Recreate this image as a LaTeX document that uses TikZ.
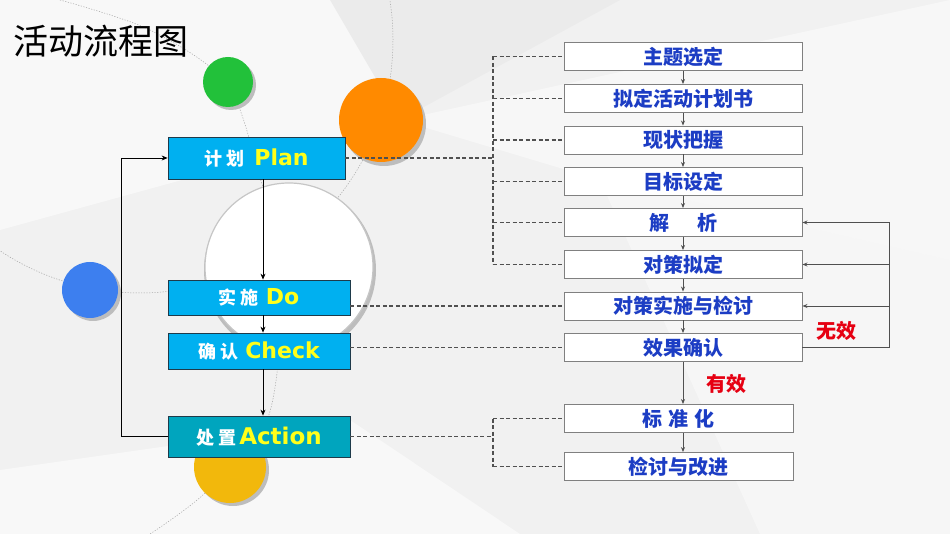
\documentclass[tikz,border=0pt]{standalone}
\usepackage{fontspec}
\setmainfont{DejaVu Sans}
\newfontfamily\cjk{Noto Sans CJK SC}
\usetikzlibrary{arrows.meta}
\definecolor{bgc}{HTML}{F1F1F1}
\definecolor{cyanbox}{HTML}{00B0F0}
\definecolor{tealbox}{HTML}{00A5BE}
\definecolor{boxline}{HTML}{1E3A4A}
\definecolor{txtblue}{HTML}{1C3DC4}
\definecolor{ylw}{HTML}{FFFF1A}
\definecolor{redtxt}{HTML}{E60012}
\definecolor{dgrey}{HTML}{505050}
\definecolor{cgreen}{HTML}{22C13A}
\definecolor{corange}{HTML}{FF8A00}
\definecolor{cblue}{HTML}{3D7FEF}
\definecolor{cyellow}{HTML}{F2B80C}
\definecolor{shadowc}{HTML}{BDBDBD}
\begin{document}
\begin{tikzpicture}[x=1pt,y=-1pt,
  pdca/.style={draw=boxline, line width=0.8pt, fill=cyanbox, minimum width=177pt, minimum height=42pt, inner sep=0pt, text=white},
  stepbox/.style={draw=gray, line width=0.9pt, fill=white, minimum width=238pt, minimum height=28pt, inner sep=0pt, text=txtblue, font=\cjk\bfseries\fontsize{20pt}{22pt}\selectfont},
  darr/.style={-{Stealth[length=6pt,width=5pt]}, line width=0.7pt, black},
  garr/.style={-{Stealth[length=5pt,width=4pt]}, line width=0.8pt, dgrey},
  gline/.style={line width=0.8pt, dgrey},
  dline/.style={line width=1.3pt, dgrey, dash pattern=on 4pt off 2.5pt},
  arcline/.style={line width=0.5pt, gray!70, dash pattern=on 1.2pt off 1.5pt},
  redlab/.style={text=redtxt, font=\cjk\bfseries\fontsize{20pt}{22pt}\selectfont}
]
\useasboundingbox (0,0) rectangle (950,534);
% background
\fill[bgc] (0,0) rectangle (950,534);
\fill[white, opacity=0.55] (0,0) -- (330,0) -- (400,120) -- (0,230) -- cycle;
\fill[white, opacity=0.45] (400,120) -- (950,0) -- (950,260) -- (600,180) -- cycle;
\fill[white, opacity=0.5] (0,470) -- (350,420) -- (520,534) -- (0,534) -- cycle;
\fill[white, opacity=0.4] (600,180) -- (950,260) -- (950,534) -- (760,534) -- cycle;
\fill[gray, opacity=0.05] (330,0) -- (620,0) -- (400,120) -- cycle;
% dotted arcs
\draw[arcline] (140,40) circle (253pt);
\draw[arcline] plot[smooth] coordinates {(60,0) (150,30) (228,85) (263,187) (287,255) (283,310) (267,420) (205,493) (150,534)};
% circles
\fill[shadowc] (290,270) circle (86pt);
\fill[white] (289,267) circle (84pt);
\draw[gray!45, line width=1.2pt] (289,267) circle (84pt);
\fill[shadowc] (231,85) circle (25pt);
\fill[cgreen] (228,82) circle (25pt);
\fill[shadowc] (384,124) circle (42pt);
\fill[corange] (381,120) circle (42pt);
\fill[shadowc] (93,293) circle (28pt);
\fill[cblue] (90,290) circle (28pt);
\fill[shadowc] (233,470) circle (36pt);
\fill[cyellow] (230,467) circle (36pt);
% title
\node[anchor=west, inner sep=0pt, font=\cjk\fontsize{35pt}{37pt}\selectfont] (title) at (13,41) {活动流程图};
% left PDCA boxes
\node[pdca] (plan) at (256.5,158) {{\cjk\bfseries\fontsize{18pt}{20pt}\selectfont 计\hspace{4pt}划}\hspace{10pt}{\bfseries\fontsize{22pt}{24pt}\selectfont\color{ylw}Plan}};
\node[pdca, minimum width=182pt, minimum height=35pt] (do) at (259,297.5) {{\cjk\bfseries\fontsize{18pt}{20pt}\selectfont 实\hspace{4pt}施}\hspace{7pt}{\bfseries\fontsize{22pt}{24pt}\selectfont\color{ylw}Do}};
\node[pdca, minimum width=182pt, minimum height=36pt] (check) at (259,351) {{\cjk\bfseries\fontsize{18pt}{20pt}\selectfont 确\hspace{4pt}认}\hspace{7pt}{\bfseries\fontsize{22pt}{24pt}\selectfont\color{ylw}Check}};
\node[pdca, fill=tealbox, minimum width=182pt, minimum height=41pt] (action) at (259,436.5) {{\cjk\bfseries\fontsize{18pt}{20pt}\selectfont 处\hspace{4pt}置}\hspace{3pt}{\bfseries\fontsize{23pt}{25pt}\selectfont\color{ylw}Action}};
% right step boxes
\node[stepbox] (s1) at (683,56.5) {主题选定};
\node[stepbox] (s2) at (683,98.5) {拟定活动计划书};
\node[stepbox] (s3) at (683,140) {现状把握};
\node[stepbox] (s4) at (683,181.5) {目标设定};
\node[stepbox] (s5) at (683,222.5) {解\hspace{28pt}析};
\node[stepbox] (s6) at (683,264.5) {对策拟定};
\node[stepbox] (s7) at (683,306) {对策实施与检讨};
\node[stepbox] (s8) at (683,347.5) {效果确认};
\node[stepbox, minimum width=229pt] (s9) at (678.5,418.5) {标\hspace{6pt}准\hspace{6pt}化};
\node[stepbox, minimum width=229pt] (s10) at (678.5,466.5) {检讨与改进};
% helper coordinates
\coordinate (ax) at (263,0);
\coordinate (rx) at (683,0);
\coordinate (lx) at (889,0);
\coordinate (dx) at (493,0);
\coordinate (lp) at (121,0);
% left arrows
\draw[darr] (plan.south -| ax) -- (do.north -| ax);
\draw[darr] (do.south -| ax) -- (check.north -| ax);
\draw[darr] (check.south -| ax) -- (action.north -| ax);
\draw[darr] (action.west) -- (action.west -| lp) |- (plan.west);
% right chain arrows
\draw[garr] (s1.south -| rx) -- (s2.north -| rx);
\draw[garr] (s2.south -| rx) -- (s3.north -| rx);
\draw[garr] (s3.south -| rx) -- (s4.north -| rx);
\draw[garr] (s4.south -| rx) -- (s5.north -| rx);
\draw[garr] (s5.south -| rx) -- (s6.north -| rx);
\draw[garr] (s6.south -| rx) -- (s7.north -| rx);
\draw[garr] (s7.south -| rx) -- (s8.north -| rx);
\draw[garr] (s8.south -| rx) -- (s9.north -| rx);
\draw[garr] (s9.south -| rx) -- (s10.north -| rx);
% feedback loop
\draw[gline] (s8.east) -- (s8.east -| lx) -- (s5.east -| lx);
\draw[garr] (s5.east -| lx) -- (s5.east);
\draw[garr] (s6.east -| lx) -- (s6.east);
\draw[garr] (s7.east -| lx) -- (s7.east);
\node[redlab] (wx) at (836,331) {无效};
\node[redlab] (yx) at (726,384) {有效};
% dashed links
\draw[dline] (plan.east) -- (plan.east -| dx);
\draw[dline] (s1.west -| dx) -- (s6.west -| dx);
\foreach \s in {s1,s2,s3,s4,s5,s6} {\draw[dline] (\s.west -| dx) -- (\s.west);}
\draw[dline] (s7.west -| do.east) -- (s7.west);
\draw[dline] (s8.west -| check.east) -- (s8.west);
\draw[dline] (action.east) -- (action.east -| dx);
\draw[dline] (s9.west -| dx) -- (s10.west -| dx);
\draw[dline] (s9.west -| dx) -- (s9.west);
\draw[dline] (s10.west -| dx) -- (s10.west);
\end{tikzpicture}
\end{document}
